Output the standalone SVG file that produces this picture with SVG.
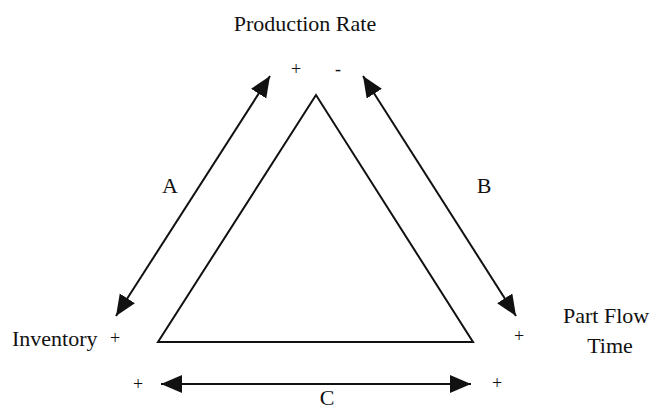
<svg xmlns="http://www.w3.org/2000/svg" width="653" height="411" viewBox="0 0 653 411">
<style>
text{font-family:"Liberation Serif","Times New Roman",serif;fill:#111;}
.lbl{font-size:22px;}
.sgn{font-size:18px;}
.con{stroke:#111;stroke-width:2;fill:none;}
</style>
<defs>
<marker id="ah" markerUnits="userSpaceOnUse" markerWidth="24" markerHeight="20" refX="21" refY="9" orient="auto-start-reverse">
<path d="M0,0 L21,9 L0,18 z" fill="#111"/>
</marker>
</defs>
<rect width="653" height="411" fill="#fff"/>
<g id="triangle">
<polygon points="316,95 158,342 473,342" fill="none" stroke="#111" stroke-width="2"/>
</g>
<g id="connectors">
<line class="con" x1="270" y1="76" x2="116" y2="316" marker-start="url(#ah)" marker-end="url(#ah)"/>
<line class="con" x1="363" y1="76" x2="516" y2="316" marker-start="url(#ah)" marker-end="url(#ah)"/>
<line class="con" x1="161" y1="384" x2="471" y2="384" marker-start="url(#ah)" marker-end="url(#ah)"/>
</g>
<g id="production-rate">
<text class="lbl" x="305" y="31" text-anchor="middle">Production Rate</text>
<text class="sgn" x="296" y="75" text-anchor="middle">+</text>
<text class="sgn" x="338" y="75" text-anchor="middle">-</text>
</g>
<g id="inventory">
<text class="lbl" x="12" y="346">Inventory</text>
<text class="sgn" x="115" y="344" text-anchor="middle">+</text>
<text class="sgn" x="138" y="390" text-anchor="middle">+</text>
</g>
<g id="part-flow-time">
<text class="lbl" x="563" y="323">Part Flow</text>
<text class="lbl" x="610" y="353" text-anchor="middle">Time</text>
<text class="sgn" x="519" y="342" text-anchor="middle">+</text>
<text class="sgn" x="497" y="389" text-anchor="middle">+</text>
</g>
<g id="labels">
<text class="lbl" x="170" y="193" text-anchor="middle">A</text>
<text class="lbl" x="484" y="193" text-anchor="middle">B</text>
<text class="lbl" x="327" y="405" text-anchor="middle">C</text>
</g>
</svg>
